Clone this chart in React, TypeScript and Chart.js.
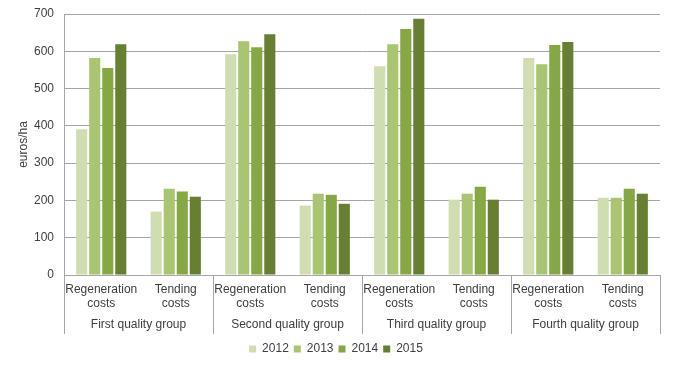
import React, { useEffect, useRef } from "react";
import { Chart, registerables } from "chart.js";

Chart.register(...registerables);

const categories: string[][] = [
  ["Regeneration", "costs"], ["Tending", "costs"],
  ["Regeneration", "costs"], ["Tending", "costs"],
  ["Regeneration", "costs"], ["Tending", "costs"],
  ["Regeneration", "costs"], ["Tending", "costs"],
];
const groups = ["First quality group", "Second quality group", "Third quality group", "Fourth quality group"];
const years = ["2012", "2013", "2014", "2015"];
const values2012 = [391, 170, 592, 186, 560, 202, 582, 207];
const values2013 = [582, 231, 627, 218, 619, 218, 565, 207];
const values2014 = [555, 224, 611, 215, 660, 237, 617, 231];
const values2015 = [619, 210, 646, 191, 687, 202, 625, 218];
const colors = ["#d0ddb0", "#a9c571", "#86a844", "#667f33"];

const FONT = "'Liberation Sans', Arial, sans-serif";
const TEXT = "#404040";
const GRID = "#a6a6a6";

const legendShift = {
  id: "legendShift",
  afterLayout(chart: any) {
    if (chart.legend) {
      chart.legend.left += 6;
      chart.legend.right += 6;
      chart.legend.top += 3;
      chart.legend.bottom += 3;
    }
  },
};

export default function App() {
  const ref = useRef<HTMLCanvasElement | null>(null);
  useEffect(() => {
    if (!ref.current) return;
    const series = [values2012, values2013, values2014, values2015];
    const chart = new Chart(ref.current, {
      type: "bar",
      data: {
        labels: categories,
        datasets: series.map((d, i) => ({
          label: years[i],
          data: d,
          backgroundColor: colors[i],
          borderWidth: 0,
          categoryPercentage: 0.7,
          barPercentage: 0.85,
          xAxisID: "x",
          yAxisID: "y",
        })),
      },
      plugins: [legendShift],
      options: {
        animation: false,
        responsive: false,
        maintainAspectRatio: false,
        layout: { padding: { top: 14, right: 14, left: 0, bottom: 6 } },
        font: { family: FONT, size: 12 },
        plugins: {
          tooltip: { enabled: false },
          legend: {
            position: "bottom",
            labels: {
              boxWidth: 7,
              boxHeight: 7,
              padding: 5,
              color: TEXT,
              font: { family: FONT, size: 12 },
            },
          },
        },
        scales: {
          y: {
            min: 0,
            max: 700,
            ticks: { stepSize: 100, color: TEXT, padding: 10, font: { family: FONT, size: 12 } },
            grid: { color: GRID, drawTicks: false },
            border: { display: true, color: GRID },
            title: {
              display: true,
              text: "euros/ha",
              color: TEXT,
              font: { family: FONT, size: 12 },
              padding: { top: 16, bottom: 0 },
            },
            afterFit: (s: any) => {
              s.width = 64;
              s.paddingTop = 0;
              s.paddingBottom = 0;
            },
          },
          x: {
            position: "bottom",
            offset: true,
            grid: {
              offset: true,
              drawOnChartArea: false,
              drawTicks: true,
              tickLength: 40,
              color: (ctx: any) => (ctx.index === undefined || ctx.index % 2 === 0 ? GRID : "rgba(0,0,0,0)"),
            },
            border: { display: true, color: GRID },
            ticks: { color: TEXT, padding: -33, maxRotation: 0, autoSkip: false, font: { family: FONT, size: 12 } },
            afterFit: (s: any) => { s.height = 38; },
          },
          groups: {
            type: "category",
            position: "bottom",
            labels: groups,
            offset: true,
            grid: {
              offset: true,
              drawOnChartArea: false,
              drawTicks: true,
              tickLength: 21,
              color: GRID,
            },
            border: { display: false },
            ticks: { color: TEXT, padding: -17, maxRotation: 0, autoSkip: false, font: { family: FONT, size: 12 } },
            afterFit: (s: any) => { s.height = 22; },
          },
        },
      },
    } as any);
    return () => chart.destroy();
  }, []);
  return (
    <div style={{ position: "fixed", left: 0, top: 0, width: 674, height: 368, background: "#fff" }}>
      <canvas ref={ref} width={674} height={368} style={{ width: 674, height: 368, display: "block" }} />
    </div>
  );
}
